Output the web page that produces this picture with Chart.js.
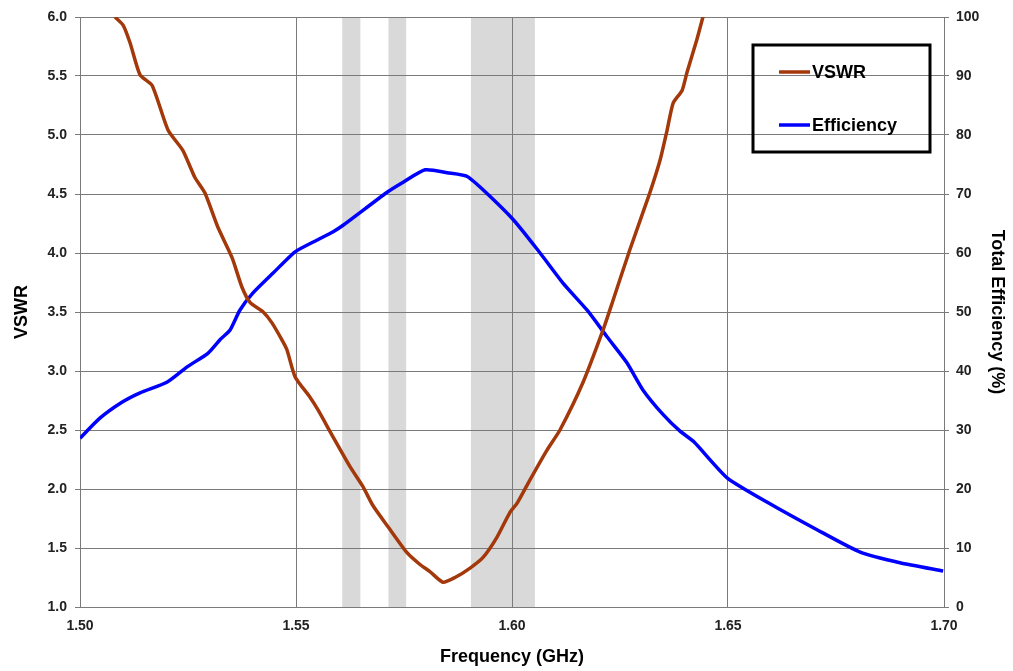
<!DOCTYPE html>
<html>
<head>
<meta charset="utf-8">
<title>VSWR and Efficiency</title>
<script src="https://cdn.jsdelivr.net/npm/chart.js@4.4.1/dist/chart.umd.min.js"></script>
<style>
  html, body { margin: 0; padding: 0; background: #fff; }
  #wrap { width: 1013px; height: 671px; }
</style>
</head>
<body>
<div id="wrap"><canvas id="chart"></canvas></div>
<script>
// VSWR curve (GHz, ratio)
const vswrFreq = [1.5081, 1.5100, 1.5116, 1.5139, 1.5167, 1.5204, 1.5238, 1.5266, 1.5289, 1.5319,
  1.5352, 1.5375, 1.5394, 1.5424, 1.5444, 1.5468, 1.5479, 1.5498, 1.5532, 1.5551,
  1.5586, 1.5625, 1.5655, 1.5678, 1.5713, 1.5757, 1.5787, 1.5810, 1.5840, 1.5868,
  1.5903, 1.5933, 1.5965, 1.5995, 1.6012, 1.6042, 1.6081, 1.6111, 1.6164, 1.6211,
  1.6234, 1.6273, 1.6319, 1.6343, 1.6359, 1.6373, 1.6394, 1.6405, 1.6428, 1.6442];
const vswrValues = [6.00, 5.93, 5.78, 5.51, 5.42, 5.04, 4.87, 4.64, 4.51, 4.22,
  3.96, 3.71, 3.58, 3.50, 3.41, 3.26, 3.18, 2.95, 2.78, 2.67,
  2.44, 2.19, 2.02, 1.86, 1.68, 1.46, 1.36, 1.30, 1.21, 1.25,
  1.33, 1.42, 1.59, 1.80, 1.88, 2.08, 2.33, 2.50, 2.90, 3.35,
  3.60, 4.03, 4.51, 4.79, 5.04, 5.27, 5.38, 5.53, 5.81, 6.00];

// Total efficiency curve (GHz, %)
const effFreq = [1.5000, 1.5046, 1.5097, 1.5139, 1.5201, 1.5248, 1.5296, 1.5324, 1.5347, 1.5370,
  1.5400, 1.5447, 1.5498, 1.5549, 1.5586, 1.5609, 1.5711, 1.5748, 1.5799, 1.5850,
  1.5898, 1.6000, 1.6065, 1.6118, 1.6174, 1.6220, 1.6266, 1.6303, 1.6350, 1.6389,
  1.6421, 1.6498, 1.6590, 1.6706, 1.6806, 1.6898, 1.6998];
const effValues = [28.6, 32.0, 34.7, 36.3, 38.1, 40.7, 43.0, 45.3, 46.9, 50.3,
  53.2, 56.6, 60.2, 62.2, 63.6, 64.7, 70.3, 72.0, 74.1, 73.6,
  72.9, 65.9, 60.0, 54.9, 50.3, 45.8, 41.4, 36.8, 32.6, 29.8,
  28.0, 21.9, 17.8, 13.1, 9.3, 7.5, 6.1];

// Shaded frequency bands (GHz)
const bandStart = [1.5607, 1.5714, 1.5905];
const bandEnd = [1.5649, 1.5755, 1.6053];

const fontFamily = '"Liberation Sans", Arial, sans-serif';
const gridColor = '#7a7a7a';
const tickFont = { family: fontFamily, size: 14, weight: 'bold' };
const titleFont = { family: fontFamily, size: 18, weight: 'bold' };

const bandsPlugin = {
  id: 'bands',
  beforeDraw(chart) {
    const { ctx, chartArea, scales } = chart;
    ctx.save();
    ctx.fillStyle = '#d9d9d9';
    bandStart.forEach((s, i) => {
      const x1 = scales.x.getPixelForValue(s);
      const x2 = scales.x.getPixelForValue(bandEnd[i]);
      ctx.fillRect(x1, chartArea.top, x2 - x1, chartArea.bottom - chartArea.top);
    });
    ctx.restore();
  }
};

const boxLegend = {
  id: 'boxLegend',
  afterDraw(chart) {
    const ctx = chart.ctx;
    ctx.save();
    ctx.lineWidth = 3;
    ctx.strokeStyle = '#000';
    ctx.strokeRect(753, 45, 177, 107);
    chart.data.datasets.forEach((ds, i) => {
      const y = 72 + i * 53;
      ctx.strokeStyle = ds.borderColor;
      ctx.lineWidth = 3.5;
      ctx.beginPath();
      ctx.moveTo(779, y);
      ctx.lineTo(810, y);
      ctx.stroke();
      ctx.fillStyle = '#000';
      ctx.font = 'bold 18px ' + fontFamily;
      ctx.textBaseline = 'middle';
      ctx.fillText(ds.label, 812, y + 1);
    });
    ctx.restore();
  }
};

new Chart(document.getElementById('chart'), {
  type: 'line',
  data: {
    datasets: [
      {
        label: 'VSWR',
        data: vswrFreq.map((f, i) => ({ x: f, y: vswrValues[i] })),
        borderColor: '#a3390b',
        borderWidth: 3.5,
        pointRadius: 0,
        tension: 0.2,
        yAxisID: 'y'
      },
      {
        label: 'Efficiency',
        data: effFreq.map((f, i) => ({ x: f, y: effValues[i] })),
        borderColor: '#0000ff',
        borderWidth: 3.5,
        pointRadius: 0,
        tension: 0.2,
        yAxisID: 'y1'
      }
    ]
  },
  options: {
    responsive: true,
    maintainAspectRatio: false,
    animation: false,
    layout: { padding: { top: 17, left: 0, right: 0, bottom: 0 } },
    plugins: {
      legend: { display: false },
      tooltip: { enabled: false }
    },
    scales: {
      x: {
        type: 'linear',
        min: 1.5,
        max: 1.7,
        afterFit: (s) => { s.height = 64; },
        ticks: {
          stepSize: 0.05,
          callback: (v) => v.toFixed(2),
          color: '#222',
          font: tickFont,
          padding: 11,
          maxRotation: 0
        },
        grid: { color: gridColor, tickLength: 0 },
        border: { color: gridColor },
        title: {
          display: true,
          text: 'Frequency (GHz)',
          color: '#000',
          font: titleFont,
          padding: { top: 0, bottom: 3 }
        }
      },
      y: {
        position: 'left',
        min: 1.0,
        max: 6.0,
        afterFit: (s) => { s.width = 80; },
        ticks: {
          stepSize: 0.5,
          callback: (v) => v.toFixed(1),
          color: '#222',
          font: tickFont,
          padding: 8
        },
        grid: { color: gridColor, tickLength: 5 },
        border: { color: gridColor },
        title: {
          display: true,
          text: 'VSWR',
          color: '#000',
          font: titleFont,
          padding: { top: 11, bottom: 0 }
        }
      },
      y1: {
        position: 'right',
        min: 0,
        max: 100,
        afterFit: (s) => { s.width = 69; },
        ticks: {
          stepSize: 10,
          color: '#222',
          font: tickFont,
          padding: 7
        },
        grid: { drawOnChartArea: false, color: gridColor, tickLength: 5 },
        border: { color: gridColor },
        title: {
          display: true,
          text: 'Total Efficiency (%)',
          color: '#000',
          font: titleFont,
          padding: { top: 5, bottom: 0 }
        }
      }
    }
  },
  plugins: [bandsPlugin, boxLegend]
});
</script>
</body>
</html>
